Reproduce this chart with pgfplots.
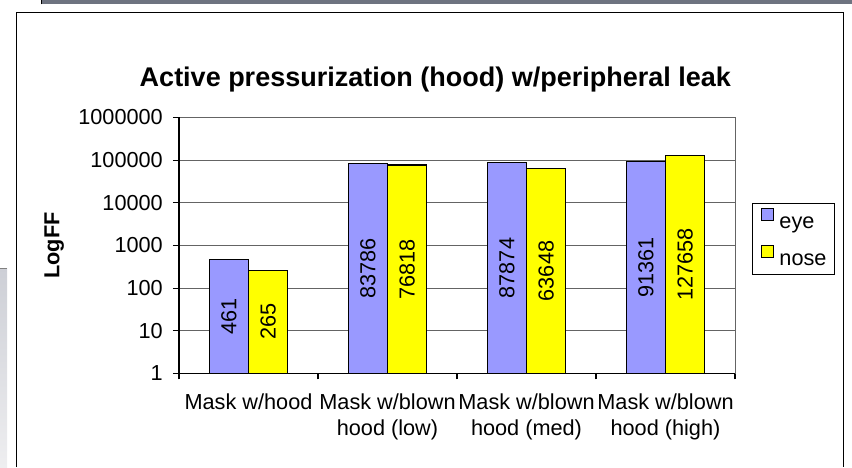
\documentclass[border=0pt]{standalone}
\usepackage{fontspec}
\setmainfont{Liberation Sans}
\usepackage{pgfplots}
\pgfplotsset{compat=1.18}
\definecolor{eyec}{RGB}{153,153,255}
\definecolor{nosec}{RGB}{255,255,0}
\definecolor{gridc}{RGB}{100,100,100}
\definecolor{bandc}{RGB}{110,115,128}
\newcommand\f{\fontsize{21.7}{26.5}\selectfont}
\begin{document}
\begin{tikzpicture}[x=1pt,y=1pt]
\useasboundingbox (0,0) rectangle (852,467);
% page decorations
\fill[bandc] (41,462.5) rectangle (852,467);
\draw[black,line width=1pt] (41.5,462.5) -- (41.5,467);
\shade[top color={rgb,255:red,205;green,207;blue,214}, bottom color={rgb,255:red,238;green,238;blue,240}] (0,0) rectangle (7,199);
\draw[gray,line width=1pt] (0,199) -- (7,199);
\draw[black,line width=1pt] (16,0) -- (16,454) -- (843,454) -- (843,0);
\begin{axis}[
  at={(179pt,93.5pt)}, anchor=south west,
  scale only axis, width=556pt, height=256pt,
  xmin=0.5, xmax=4.5,
  ymode=log, log basis y=10, ymin=1, ymax=1000000,
  axis x line*=bottom, axis y line*=left,
  axis line style={black, line width=1.2pt},
  tick align=outside, major tick length=6pt,
  tick style={black, line width=1.2pt},
  xtick={0.5,1.5,2.5,3.5,4.5}, xticklabels={},
  extra x ticks={1,2,3,4},
  extra x tick labels={Mask w/hood,{Mask w/blown\\hood (low)},{Mask w/blown\\hood (med)},{Mask w/blown\\hood (high)}},
  extra x tick style={major tick length=0pt},
  xticklabel style={font=\f, align=center, anchor=north, inner sep=0pt, yshift=-20pt},
  ytick={1,10,100,1000,10000,100000,1000000},
  yticklabels={1,10,100,1000,10000,100000,1000000},
  yminorticks=false,
  yticklabel style={font=\f, anchor=east, inner sep=0pt, xshift=-10pt},
  ymajorgrids, major grid style={draw=gridc, line width=1pt},
  ylabel={LogFF},
  ylabel style={font=\bfseries\f, at={(axis description cs:-0.2245,0.5)}, anchor=center},
  title={Active pressurization (hood) w/peripheral leak},
  title style={font=\bfseries\fontsize{27}{32}\selectfont, at={(axis description cs:0.461,1.0996)}, anchor=base},
  legend style={at={(axis description cs:1.031,0.666)}, anchor=north west, draw=black, line width=0.8pt,
    font=\f, inner xsep=8pt, inner ysep=5pt, row sep=12pt,
    nodes={inner sep=0pt, text height=20pt, text depth=4pt},
    /tikz/every odd column/.append style={column sep=6pt}},
  legend cell align=left,
  clip=false,
]
\addplot[ybar, bar width=0.283, bar shift=-0.1417, fill=eyec, draw=black, line width=1.2pt,
  legend image code/.code={\draw[fill=eyec,draw=black,line width=0.8pt] (0pt,0pt) rectangle (12pt,12pt);}]
  coordinates {(1,461) (2,83786) (3,87874) (4,91361)};
\addlegendentry{eye}
\addplot[ybar, bar width=0.283, bar shift=0.1417, fill=nosec, draw=black, line width=1.2pt,
  legend image code/.code={\draw[fill=nosec,draw=black,line width=0.8pt] (0pt,0pt) rectangle (12pt,12pt);}]
  coordinates {(1,265) (2,76818) (3,63648) (4,127658)};
\addlegendentry{nose}
% value labels, centred in each bar (geometric midpoint)
\addplot[draw=none, forget plot, nodes near coords, point meta=explicit symbolic,
  every node near coord/.style={font=\f, rotate=90, anchor=center, inner sep=0pt}]
  table[meta=lab] {
x y lab
0.8583 21.47 461
1.8583 289.46 83786
2.8583 296.44 87874
3.8583 302.26 91361
1.1417 16.28 265
2.1417 277.16 76818
3.1417 252.29 63648
4.1417 357.29 127658
};
\draw[gridc, line width=1pt] (rel axis cs:1,0) -- (rel axis cs:1,1);
\end{axis}
\end{tikzpicture}
\end{document}
